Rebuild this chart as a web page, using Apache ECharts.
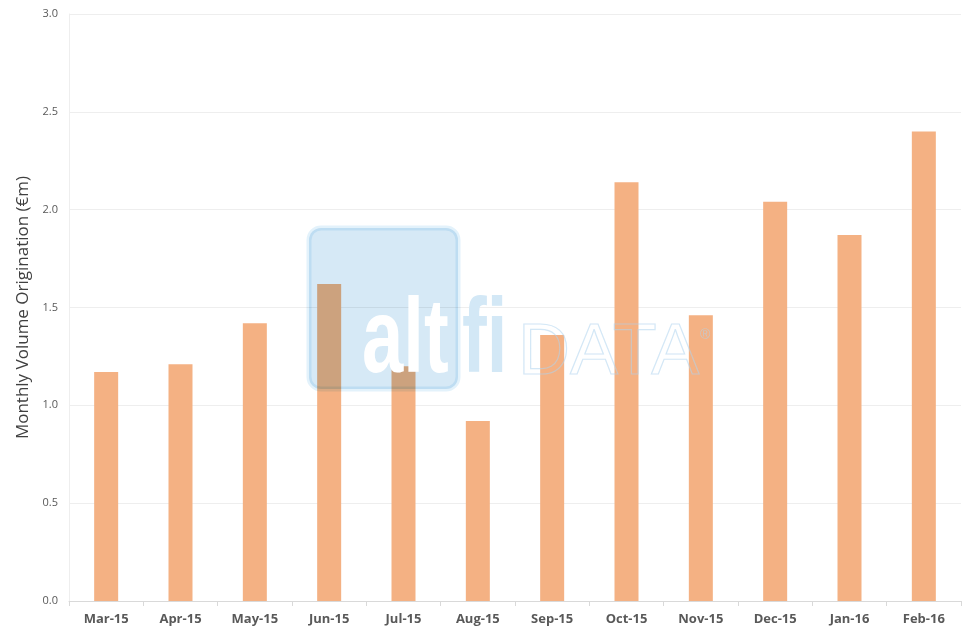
<!DOCTYPE html>
<html>
<head>
<meta charset="utf-8">
<script src="https://cdn.jsdelivr.net/npm/echarts@6/dist/echarts.min.js"></script>
<style>
  html, body { margin: 0; padding: 0; background: #fff; }
  #chart { width: 977px; height: 638px; }
</style>
</head>
<body>
<div id="chart"></div>
<script>
// months on the x axis
var months = ['Mar-15', 'Apr-15', 'May-15', 'Jun-15', 'Jul-15', 'Aug-15',
  'Sep-15', 'Oct-15', 'Nov-15', 'Dec-15', 'Jan-16', 'Feb-16'];
// monthly volume, €m
var volume = [1.17, 1.21, 1.42, 1.62, 1.20, 0.92, 1.36, 2.14, 1.46, 2.04, 1.87, 2.40];
var axisTitle = 'Monthly Volume Origination (€m)';

var wmFont = 'bold 106px "Liberation Sans", Arial, sans-serif';

var chart = echarts.init(document.getElementById('chart'));
chart.setOption({
  animation: false,
  grid: { left: 69, right: 16, top: 14, bottom: 37 },
  xAxis: {
    type: 'category',
    data: months,
    axisLine: { lineStyle: { color: '#d9d9d9', width: 1 } },
    axisTick: { show: true, length: 5, lineStyle: { color: '#d9d9d9' } },
    axisLabel: {
      color: '#595959', fontSize: 13, fontWeight: 'bold',
      fontFamily: 'Open Sans', margin: 12
    }
  },
  yAxis: {
    type: 'value',
    min: 0, max: 3, interval: 0.5,
    name: axisTitle,
    nameLocation: 'middle',
    nameGap: 31,
    nameTextStyle: { color: '#404040', fontSize: 17, fontFamily: 'Open Sans' },
    axisLine: { show: true, lineStyle: { color: '#eeeeee' } },
    axisTick: { show: false },
    axisLabel: {
      color: '#595959', fontSize: 11, fontFamily: 'Open Sans', margin: 11,
      formatter: function (v) { return v.toFixed(1); }
    },
    splitLine: { lineStyle: { color: '#eeeeee' } }
  },
  series: [{
    type: 'bar',
    data: volume,
    barWidth: 24,
    itemStyle: { color: '#f4b183' }
  }],
  // altfi DATA watermark
  graphic: [
    {
      type: 'rect', z: 100,
      shape: { x: 309, y: 228, width: 149, height: 161, r: 12 },
      style: { fill: '#d6e9f6', stroke: '#e3f2fb', lineWidth: 5, blend: 'multiply' }
    },
    {
      type: 'text', z: 101, x: 362, y: 290, scaleX: 0.7,
      style: { x: 0, y: 0, text: 'alt', fill: '#ffffff', font: wmFont, verticalAlign: 'top' }
    },
    {
      type: 'text', z: 101, x: 462, y: 290, scaleX: 0.7,
      style: { x: 0, y: 0, text: 'fi', fill: '#d3e8f6', font: wmFont, verticalAlign: 'top' }
    },
    {
      type: 'text', z: 101, x: 518, y: 318,
      style: {
        x: 0, y: 0, verticalAlign: 'top',
        text: 'DATA', fill: 'rgba(255,255,255,0)', stroke: 'rgba(175,212,238,0.55)', lineWidth: 1.2,
        font: '72px "Liberation Sans", sans-serif'
      }
    },
    {
      type: 'text', z: 101, x: 700, y: 328,
      style: { x: 0, y: 0, verticalAlign: 'top', text: '®', fill: 'rgba(175,212,238,0.6)', font: '14px "Liberation Sans", sans-serif' }
    }
  ]
});
</script>
</body>
</html>
